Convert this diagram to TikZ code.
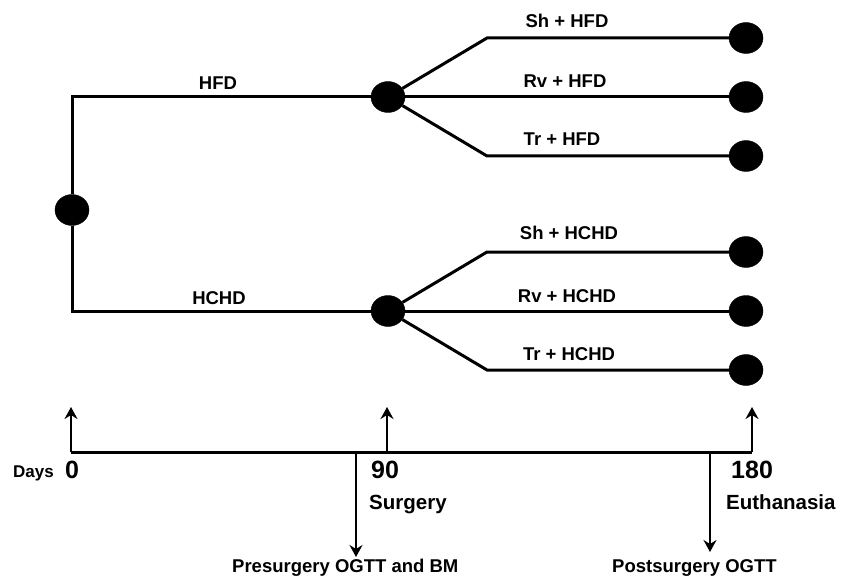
\documentclass[tikz,border=0pt]{standalone}
\usepackage{fontspec}
\setmainfont{Liberation Sans}
\usetikzlibrary{shapes.geometric,arrows.meta}
\begin{document}
\begin{tikzpicture}[x=1pt,y=-1pt,
  dot/.style={ellipse,fill=black,draw=black,inner sep=0pt,minimum width=34pt,minimum height=31pt},
  ln/.style={line width=3pt},
  arr/.style={line width=2.6pt,-{Stealth[length=12pt,width=13pt,inset=4pt]}},
  lab/.style={inner sep=0pt,font=\bfseries\fontsize{18.5}{18.5}\selectfont},
  tlab/.style={inner sep=0pt,anchor=base west,font=\bfseries\fontsize{20.5}{20.5}\selectfont},
  num/.style={inner sep=0pt,anchor=base west,font=\bfseries\fontsize{25}{25}\selectfont}]
\useasboundingbox (0,0) rectangle (842,577);
% tree nodes
\node[dot] (r) at (72,210) {};
\node[dot] (hfd) at (388,97) {};
\node[dot] (hchd) at (388,311) {};
\node[dot] (e1) at (746,38) {};
\node[dot] (e2) at (746,97) {};
\node[dot] (e3) at (746,156) {};
\node[dot] (e4) at (746,252) {};
\node[dot] (e5) at (746,311) {};
\node[dot] (e6) at (746,370) {};
\coordinate (b1) at (487,38);
\coordinate (b3) at (487,156);
\coordinate (b4) at (487,252);
\coordinate (b6) at (487,370);
% connectors
\draw[ln] (r) |- (hfd);
\draw[ln] (r) |- (hchd);
\draw[ln] (hfd) -- (b1) -- (e1);
\draw[ln] (hfd) -- (e2);
\draw[ln] (hfd) -- (b3) -- (e3);
\draw[ln] (hchd) -- (b4) -- (e4);
\draw[ln] (hchd) -- (e5);
\draw[ln] (hchd) -- (b6) -- (e6);
% labels
\node[lab,anchor=base] (lhfd) at (218,90) {HFD};
\node[lab,anchor=base] (lhchd) at (219,304) {HCHD};
\node[lab,anchor=base] (l1) at (567,28) {Sh + HFD};
\node[lab,anchor=base] (l2) at (565,88) {Rv + HFD};
\node[lab,anchor=base] (l3) at (562,146) {Tr + HFD};
\node[lab,anchor=base] (l4) at (569,240) {Sh + HCHD};
\node[lab,anchor=base] (l5) at (567,302) {Rv + HCHD};
\node[lab,anchor=base] (l6) at (569,360) {Tr + HCHD};
% timeline
\coordinate (t0) at (71,452);
\coordinate (t90) at (387,452);
\coordinate (t180) at (752,452);
\coordinate (tpre) at (356,452);
\coordinate (tpost) at (710,452);
\coordinate (u0) at (71,407);
\coordinate (u90) at (387,407);
\coordinate (u180) at (752,407);
\coordinate (dpre) at (356,557);
\coordinate (dpost) at (710,552);
\draw[ln] (t0) -- (t180);
\draw[arr] (t0) -- (u0);
\draw[arr] (t90) -- (u90);
\draw[arr] (t180) -- (u180);
\draw[arr] (tpre) -- (dpre);
\draw[arr] (tpost) -- (dpost);
\node[inner sep=0pt,anchor=base west,font=\bfseries\fontsize{17}{17}\selectfont] (days) at (13,477) {Days};
\node[num] (n0) at (65,478) {0};
\node[num] (n90) at (371,478) {90};
\node[num] (n180) at (731,478) {180};
\node[tlab] (surg) at (369,509) {Surgery};
\node[tlab] (euth) at (726,509) {Euthanasia};
\node[lab,anchor=base west] (pre) at (232,572) {Presurgery OGTT and BM};
\node[lab,anchor=base west] (post) at (612,572) {Postsurgery OGTT};
\end{tikzpicture}
\end{document}
